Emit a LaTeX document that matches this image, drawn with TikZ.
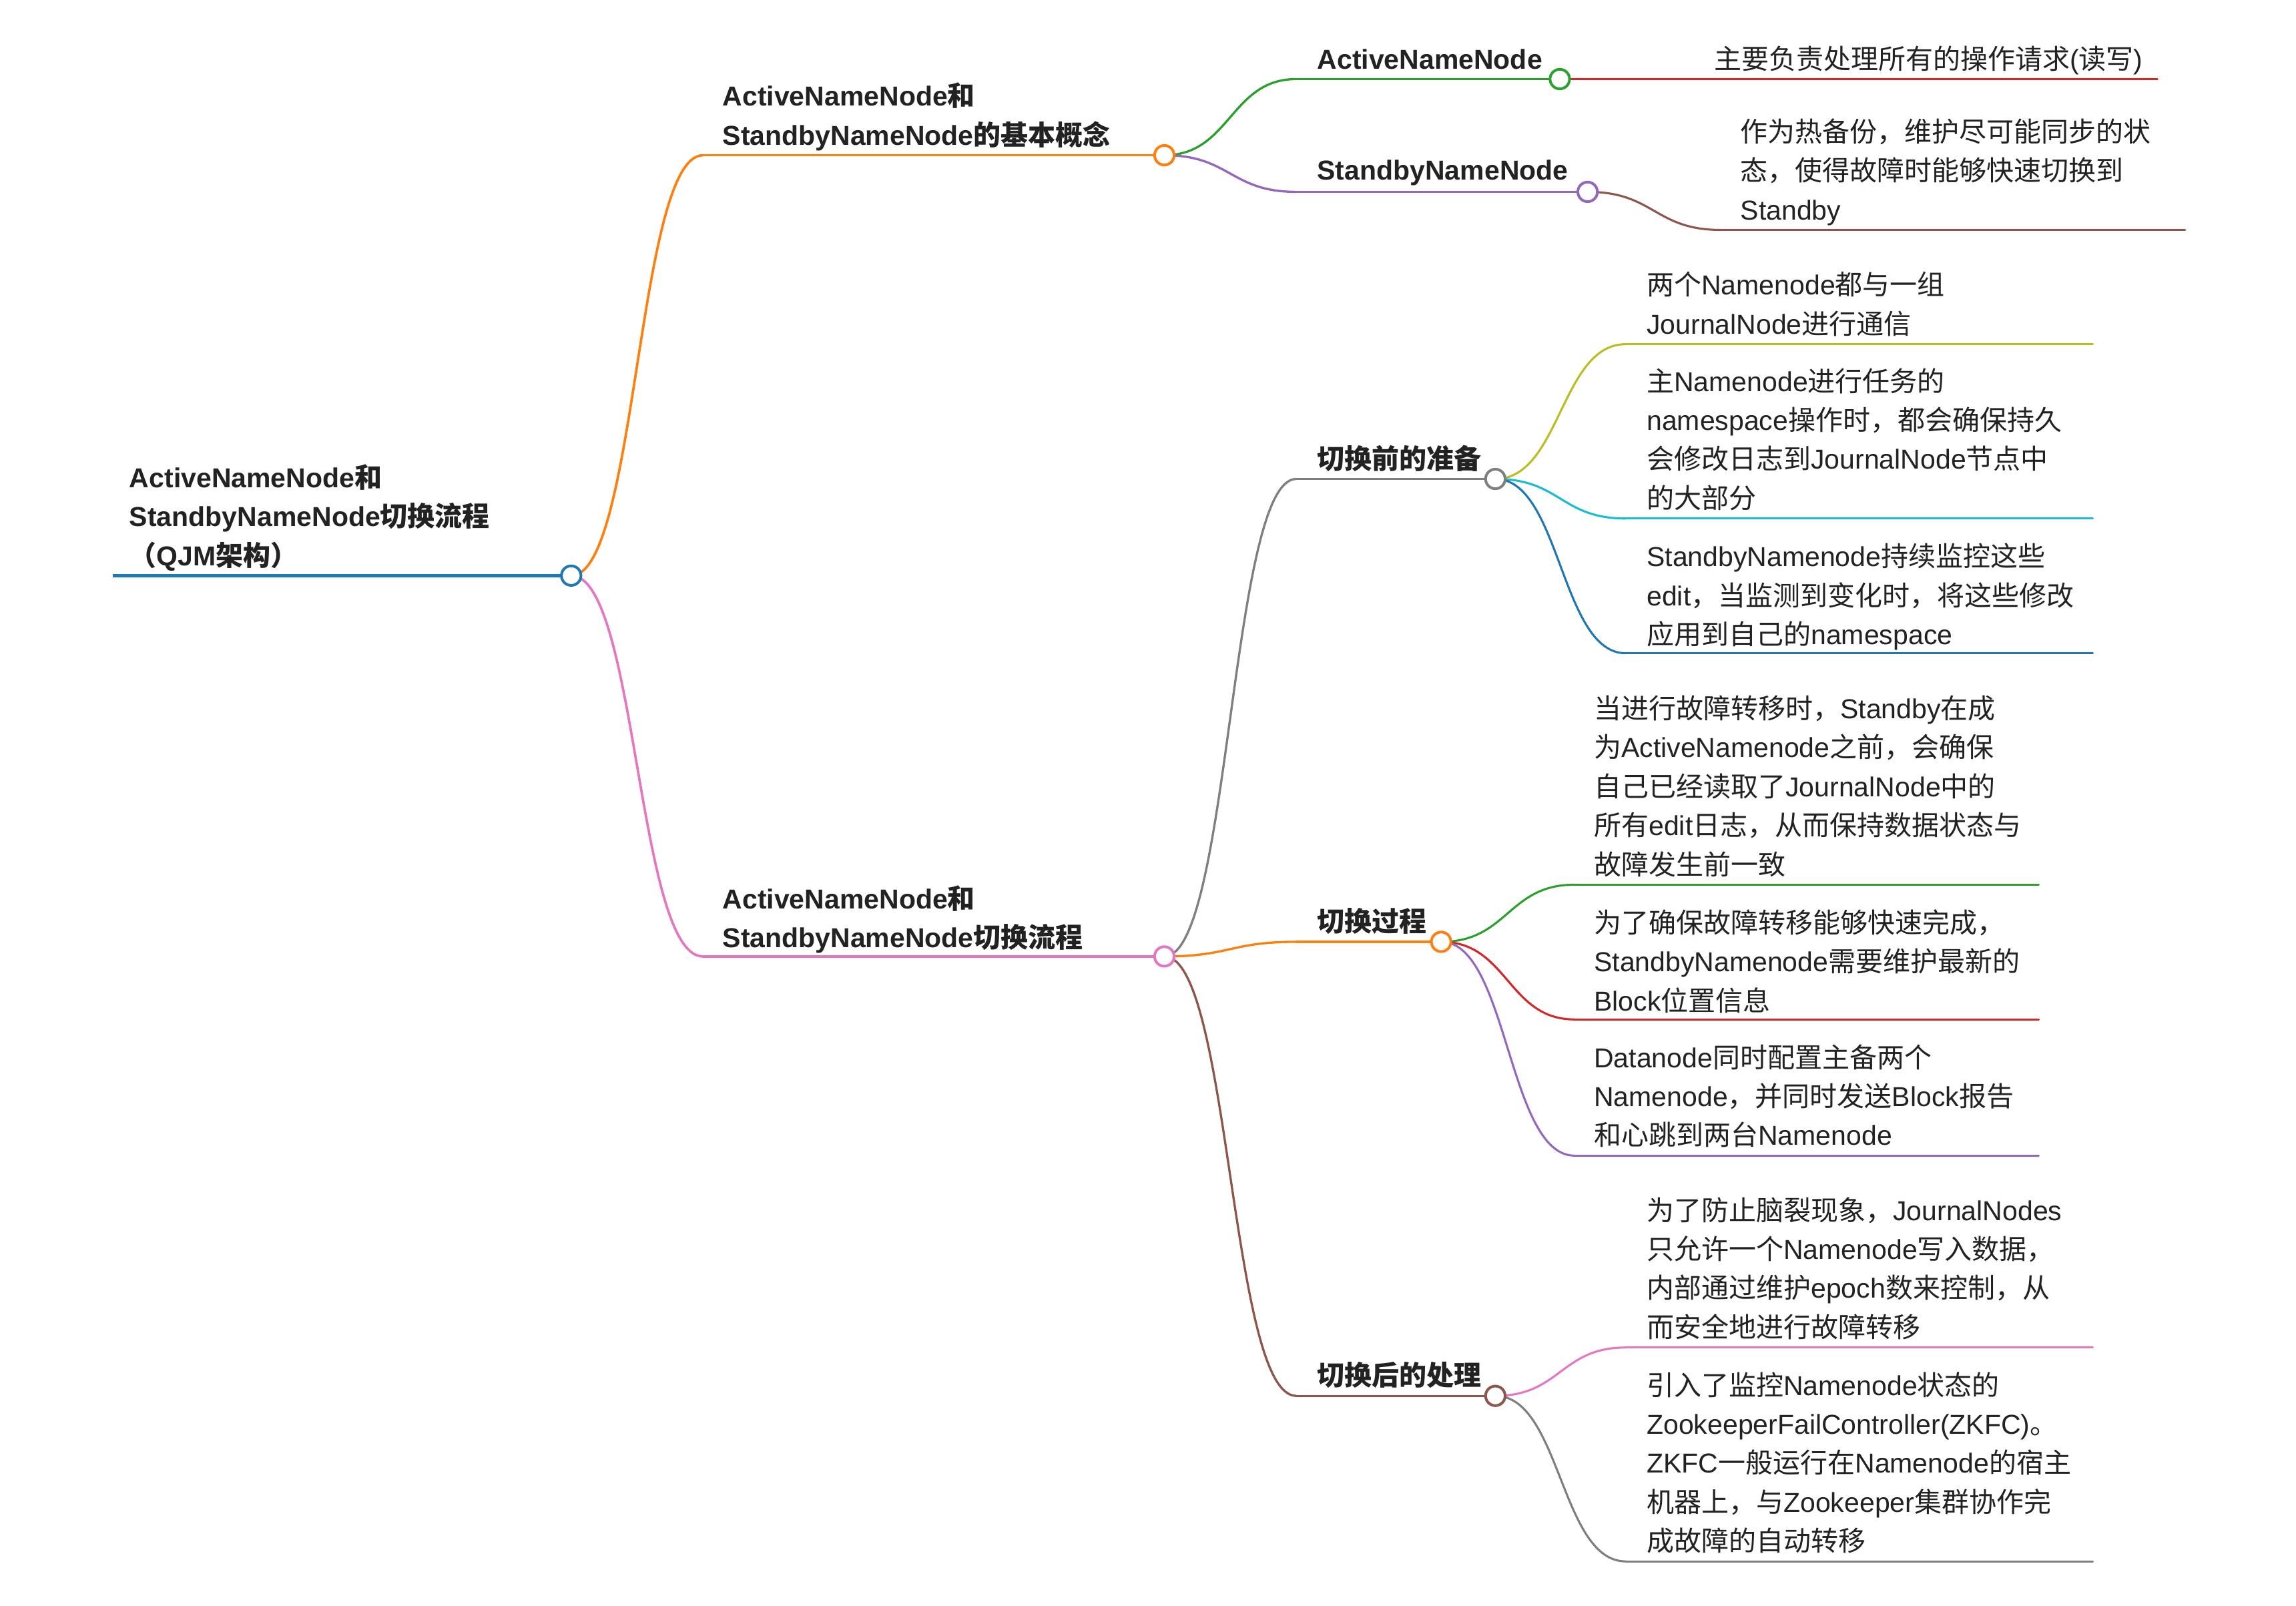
\documentclass[tikz,border=0pt]{standalone}
\usepackage{fontspec}
\setmainfont{Liberation Sans}
\newfontfamily\cjkfam{Noto Sans CJK SC}
% automatic switch to the CJK family for CJK characters
\XeTeXinterchartokenstate=1
\newXeTeXintercharclass\CJKcls
\newcount\cjkcnt
\cjkcnt="3000 \loop \XeTeXcharclass\cjkcnt=\CJKcls \ifnum\cjkcnt<"303F \advance\cjkcnt 1 \repeat
\cjkcnt="4E00 \loop \XeTeXcharclass\cjkcnt=\CJKcls \ifnum\cjkcnt<"9FFF \advance\cjkcnt 1 \repeat
\cjkcnt="FF00 \loop \XeTeXcharclass\cjkcnt=\CJKcls \ifnum\cjkcnt<"FFEF \advance\cjkcnt 1 \repeat
\XeTeXinterchartoks 0 \CJKcls = {\cjkfam}
\XeTeXinterchartoks 4095 \CJKcls = {\cjkfam}
\XeTeXinterchartoks \CJKcls 0 = {\rmfamily}
\XeTeXinterchartoks \CJKcls 4095 = {\rmfamily}
\usetikzlibrary{calc}
\definecolor{cblue}{HTML}{1F77B4}
\definecolor{corange}{HTML}{FF7F0E}
\definecolor{cgreen}{HTML}{2CA02C}
\definecolor{cred}{HTML}{D62728}
\definecolor{cpurple}{HTML}{9467BD}
\definecolor{cbrown}{HTML}{8C564B}
\definecolor{cpink}{HTML}{E377C2}
\definecolor{cgray}{HTML}{7F7F7F}
\definecolor{colive}{HTML}{BCBD22}
\definecolor{ccyan}{HTML}{17BECF}
\definecolor{textc}{HTML}{222222}
\tikzset{
  txt/.style={anchor=base west, inner sep=0pt, align=left, text=textc, font=\fontsize{9.25}{13.18}\selectfont},
  ttl/.style={txt, font=\bfseries\fontsize{9.25}{13.18}\selectfont},
  dot/.style={circle, draw=#1, fill=white, line width=0.9pt, minimum size=6.6pt, inner sep=0pt},
  lnk/.style={draw=#1, line width=0.7pt, line cap=round},
  lnktwo/.style={draw=#1, line width=0.75pt, line cap=round},
  lnkone/.style={draw=#1, line width=0.83pt, line cap=round},
  lnkroot/.style={draw=#1, line width=1.05pt},
}
\newcommand\mmlink[4][lnk]{\draw[#1=#2] let \p1=(#3), \p2=(#4) in (\p1) .. controls ({(\x1+\x2)/2},\y1) and ({(\x1+\x2)/2},\y2) .. (\p2);}
\begin{document}
\begin{tikzpicture}[x=0.495pt,y=-0.495pt]
\useasboundingbox (0pt,0pt) rectangle (776pt,-542.53pt);
\fill[white] (0pt,0pt) rectangle (776pt,-542.53pt);
% coordinates
\coordinate (r0) at (77,393);   \coordinate (r) at (390,393);
\coordinate (a0) at (480,106);  \coordinate (a) at (795,106);
\coordinate (b0) at (480,653);  \coordinate (b) at (795,653);
\coordinate (aa0) at (885,54);  \coordinate (aa) at (1065,54);
\coordinate (aaa0) at (1157,54); \coordinate (aaa) at (1473,54);
\coordinate (ab0) at (885,131); \coordinate (ab) at (1084,131);
\coordinate (aba0) at (1175,157); \coordinate (aba) at (1492,157);
\coordinate (ba0) at (885,327); \coordinate (ba) at (1021,327);
\coordinate (baa0) at (1110,235); \coordinate (baa) at (1429,235);
\coordinate (bab0) at (1110,354); \coordinate (bab) at (1429,354);
\coordinate (bac0) at (1110,446); \coordinate (bac) at (1429,446);
\coordinate (bb0) at (885,643); \coordinate (bb) at (984,643);
\coordinate (bba0) at (1075,604); \coordinate (bba) at (1392,604);
\coordinate (bbb0) at (1075,696); \coordinate (bbb) at (1392,696);
\coordinate (bbc0) at (1075,789); \coordinate (bbc) at (1392,789);
\coordinate (bc0) at (885,953); \coordinate (bc) at (1021,953);
\coordinate (bca0) at (1110,920); \coordinate (bca) at (1429,920);
\coordinate (bcb0) at (1110,1066); \coordinate (bcb) at (1429,1066);
% links
\mmlink[lnkone]{corange}{r}{a0}
\mmlink[lnkone]{cpink}{r}{b0}
\mmlink[lnktwo]{cgreen}{a}{aa0}
\mmlink[lnktwo]{cpurple}{a}{ab0}
\mmlink{cred}{aa}{aaa0}
\mmlink{cbrown}{ab}{aba0}
\mmlink[lnktwo]{cgray}{b}{ba0}
\mmlink[lnktwo]{corange}{b}{bb0}
\mmlink[lnktwo]{cbrown}{b}{bc0}
\mmlink{colive}{ba}{baa0}
\mmlink{ccyan}{ba}{bab0}
\mmlink{cblue}{ba}{bac0}
\mmlink{cgreen}{bb}{bba0}
\mmlink{cred}{bb}{bbb0}
\mmlink{cpurple}{bb}{bbc0}
\mmlink{cpink}{bc}{bca0}
\mmlink{cgray}{bc}{bcb0}
% underlines
\draw[lnkroot=cblue] (r0) -- (r);
\draw[lnkone=corange] (a0) -- (a);
\draw[lnkone=cpink] (b0) -- (b);
\draw[lnktwo=cgreen] (aa0) -- (aa);
\draw[lnk=cred] (aaa0) -- (aaa);
\draw[lnktwo=cpurple] (ab0) -- (ab);
\draw[lnk=cbrown] (aba0) -- (aba);
\draw[lnktwo=cgray] (ba0) -- (ba);
\draw[lnk=colive] (baa0) -- (baa);
\draw[lnk=ccyan] (bab0) -- (bab);
\draw[lnk=cblue] (bac0) -- (bac);
\draw[lnktwo=corange] (bb0) -- (bb);
\draw[lnk=cgreen] (bba0) -- (bba);
\draw[lnk=cred] (bbb0) -- (bbb);
\draw[lnk=cpurple] (bbc0) -- (bbc);
\draw[lnktwo=cbrown] (bc0) -- (bc);
\draw[lnk=cpink] (bca0) -- (bca);
\draw[lnk=cgray] (bcb0) -- (bcb);
% dots
\node[dot=cblue] (rdot) at (r) {};
\node[dot=corange] (adot) at (a) {};
\node[dot=cpink] (bdot) at (b) {};
\node[dot=cgreen] (aadot) at (aa) {};
\node[dot=cpurple] (abdot) at (ab) {};
\node[dot=cgray] (badot) at (ba) {};
\node[dot=corange] (bbdot) at (bb) {};
\node[dot=cbrown] (bcdot) at (bc) {};
% texts (anchored at the baseline of the last line)
\node[ttl] (rt) at (88,386) {ActiveNameNode和\\StandbyNameNode切换流程\\（QJM架构）};
\node[ttl] (at) at (493,99) {ActiveNameNode和\\StandbyNameNode的基本概念};
\node[ttl] (bt) at (493,647) {ActiveNameNode和\\StandbyNameNode切换流程};
\node[ttl] (aat) at (899,47) {ActiveNameNode};
\node[txt] (aaat) at (1170,47) {主要负责处理所有的操作请求(读写)};
\node[ttl] (abt) at (899,123) {StandbyNameNode};
\node[txt] (abat) at (1188,150) {作为热备份，维护尽可能同步的状\\态，使得故障时能够快速切换到\\Standby};
\node[ttl] (bat) at (899,320) {切换前的准备};
\node[txt] (baat) at (1124,228) {两个Namenode都与一组\\JournalNode进行通信};
\node[txt] (babt) at (1124,347) {主Namenode进行任务的\\namespace操作时，都会确保持久\\会修改日志到JournalNode节点中\\的大部分};
\node[txt] (bact) at (1124,440) {StandbyNamenode持续监控这些\\edit，当监测到变化时，将这些修改\\应用到自己的namespace};
\node[ttl] (bbt) at (899,636) {切换过程};
\node[txt] (bbat) at (1088,597) {当进行故障转移时，Standby在成\\为ActiveNamenode之前，会确保\\自己已经读取了JournalNode中的\\所有edit日志，从而保持数据状态与\\故障发生前一致};
\node[txt] (bbbt) at (1088,690) {为了确保故障转移能够快速完成，\\StandbyNamenode需要维护最新的\\Block位置信息};
\node[txt] (bbct) at (1088,782) {Datanode同时配置主备两个\\Namenode，并同时发送Block报告\\和心跳到两台Namenode};
\node[ttl] (bct) at (899,946) {切换后的处理};
\node[txt] (bcat) at (1124,913) {为了防止脑裂现象，JournalNodes\\只允许一个Namenode写入数据，\\内部通过维护epoch数来控制，从\\而安全地进行故障转移};
\node[txt] (bcbt) at (1124,1059) {引入了监控Namenode状态的\\ZookeeperFailController(ZKFC)。\\ZKFC一般运行在Namenode的宿主\\机器上，与Zookeeper集群协作完\\成故障的自动转移};
\end{tikzpicture}
\end{document}
